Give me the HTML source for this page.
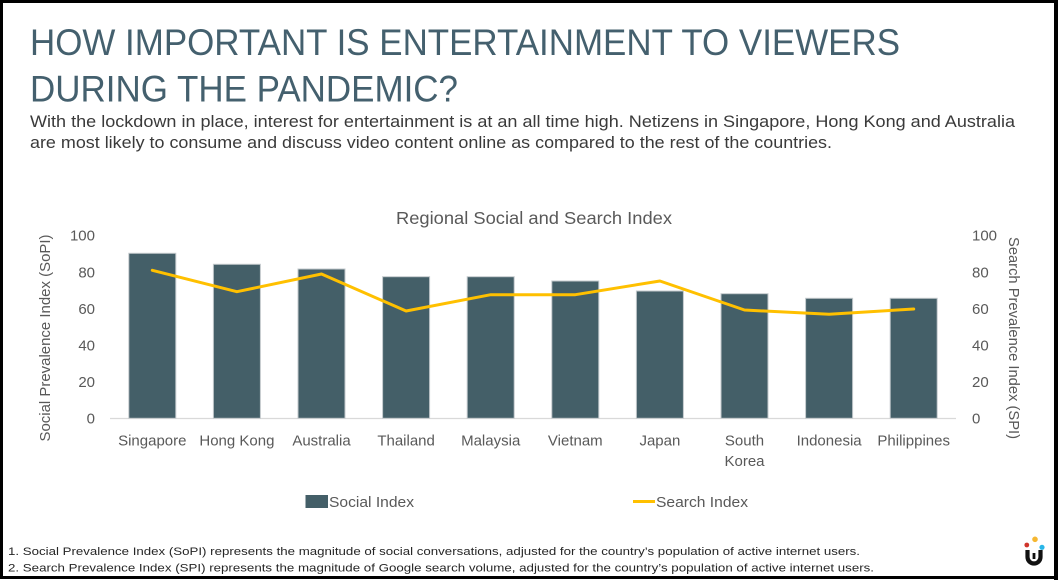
<!DOCTYPE html>
<html><head><meta charset="utf-8"><style>
html,body{margin:0;padding:0;background:#fff;}
svg{display:block;}
text{font-family:"Liberation Sans",sans-serif;}
</style></head><body>
<svg width="1058" height="580" viewBox="0 0 1058 580" xmlns="http://www.w3.org/2000/svg">
<rect x="0" y="0" width="1058" height="580" fill="#fff"/>
<!-- border -->
<rect x="1.5" y="1.5" width="1054" height="576" fill="none" stroke="#000" stroke-width="3"/>
<rect x="1054" y="0" width="4" height="580" fill="#000"/>

<!-- title -->
<text x="30" y="55" font-size="37" fill="#44606e" textLength="870" lengthAdjust="spacingAndGlyphs">HOW IMPORTANT IS ENTERTAINMENT TO VIEWERS</text>
<text x="30" y="101.5" font-size="37" fill="#44606e" textLength="428" lengthAdjust="spacingAndGlyphs">DURING THE PANDEMIC?</text>
<text x="30" y="127" font-size="17" fill="#3a3a3a" textLength="985" lengthAdjust="spacingAndGlyphs">With the lockdown in place, interest for entertainment is at an all time high. Netizens in Singapore, Hong Kong and Australia</text>
<text x="30" y="148" font-size="17" fill="#3a3a3a" textLength="802" lengthAdjust="spacingAndGlyphs">are most likely to consume and discuss video content online as compared to the rest of the countries.</text>

<!-- chart title -->
<text x="396" y="224" font-size="17.5" fill="#595959" textLength="276" lengthAdjust="spacingAndGlyphs">Regional Social and Search Index</text>

<!-- left ticks -->
<g font-size="15" fill="#595959" text-anchor="end">
<text x="95" y="240.7">100</text>
<text x="95" y="277.3">80</text>
<text x="95" y="313.9">60</text>
<text x="95" y="350.5">40</text>
<text x="95" y="387.1">20</text>
<text x="95" y="423.7">0</text>
</g>
<!-- right ticks -->
<g font-size="15" fill="#595959">
<text x="972" y="240.7">100</text>
<text x="972" y="277.3">80</text>
<text x="972" y="313.9">60</text>
<text x="972" y="350.5">40</text>
<text x="972" y="387.1">20</text>
<text x="972" y="423.7">0</text>
</g>

<!-- axis titles -->
<text transform="translate(50,338) rotate(-90)" text-anchor="middle" font-size="15" fill="#595959" textLength="207" lengthAdjust="spacingAndGlyphs">Social Prevalence Index (SoPI)</text>
<text transform="translate(1009,338) rotate(90)" text-anchor="middle" font-size="15" fill="#595959" textLength="202" lengthAdjust="spacingAndGlyphs">Search Prevalence Index (SPI)</text>

<!-- axis line -->
<line x1="110" y1="418.5" x2="956" y2="418.5" stroke="#d9d9d9" stroke-width="1.2"/>

<!-- bars -->
<g fill="#445f68" stroke="#c3c9cc" stroke-width="1">
<rect x="128.8" y="253.3" width="47" height="165"/>
<rect x="213.4" y="264.3" width="47" height="154"/>
<rect x="298" y="269" width="47" height="149.3"/>
<rect x="382.6" y="276.7" width="47" height="141.6"/>
<rect x="467.2" y="276.7" width="47" height="141.6"/>
<rect x="551.8" y="281" width="47" height="137.3"/>
<rect x="636.4" y="291" width="47" height="127.3"/>
<rect x="721" y="293.7" width="47" height="124.6"/>
<rect x="805.6" y="298.3" width="47" height="120"/>
<rect x="890.2" y="298.3" width="47" height="120"/>
</g>

<!-- line -->
<polyline fill="none" stroke="#ffc000" stroke-width="3" stroke-linejoin="round" stroke-linecap="round"
points="152.3,270.3 236.9,291.7 321.5,274 406.1,311 490.7,294.7 575.3,294.7 659.9,281 744.5,310 829.1,314.3 913.7,309"/>

<!-- x labels -->
<g font-size="15" fill="#595959" text-anchor="middle">
<text x="152.3" y="445.5">Singapore</text>
<text x="236.9" y="445.5">Hong Kong</text>
<text x="321.5" y="445.5">Australia</text>
<text x="406.1" y="445.5">Thailand</text>
<text x="490.7" y="445.5">Malaysia</text>
<text x="575.3" y="445.5">Vietnam</text>
<text x="659.9" y="445.5">Japan</text>
<text x="744.5" y="445.5">South</text>
<text x="744.5" y="466">Korea</text>
<text x="829.1" y="445.5">Indonesia</text>
<text x="913.7" y="445.5">Philippines</text>
</g>

<!-- legend -->
<rect x="305.5" y="495" width="22.5" height="13" fill="#445f68"/>
<text x="329" y="507" font-size="15" fill="#595959" textLength="85" lengthAdjust="spacingAndGlyphs">Social Index</text>
<line x1="633" y1="501.5" x2="655" y2="501.5" stroke="#ffc000" stroke-width="3"/>
<text x="656" y="507" font-size="15" fill="#595959" textLength="92" lengthAdjust="spacingAndGlyphs">Search Index</text>

<!-- footnotes -->
<text x="8" y="555" font-size="11" fill="#262626" textLength="852" lengthAdjust="spacingAndGlyphs">1. Social Prevalence Index (SoPI) represents the magnitude of social conversations, adjusted for the country’s population of active internet users.</text>
<text x="8" y="571.5" font-size="11" fill="#262626" textLength="866" lengthAdjust="spacingAndGlyphs">2. Search Prevalence Index (SPI) represents the magnitude of Google search volume, adjusted for the country’s population of active internet users.</text>

<!-- logo -->
<circle cx="1026.8" cy="545" r="2.4" fill="#d0352b"/>
<circle cx="1035" cy="539.3" r="2.8" fill="#f5b731"/>
<circle cx="1042" cy="547.3" r="2.6" fill="#29b6e8"/>
<path d="M1027.5,550 L1027.5,557 A6.5,6.5 0 0 0 1040.5,557 L1040.5,550" fill="none" stroke="#111" stroke-width="4.2"/>
<rect x="1032.6" y="553" width="2.8" height="6" fill="#111"/>
</svg>
</body></html>
